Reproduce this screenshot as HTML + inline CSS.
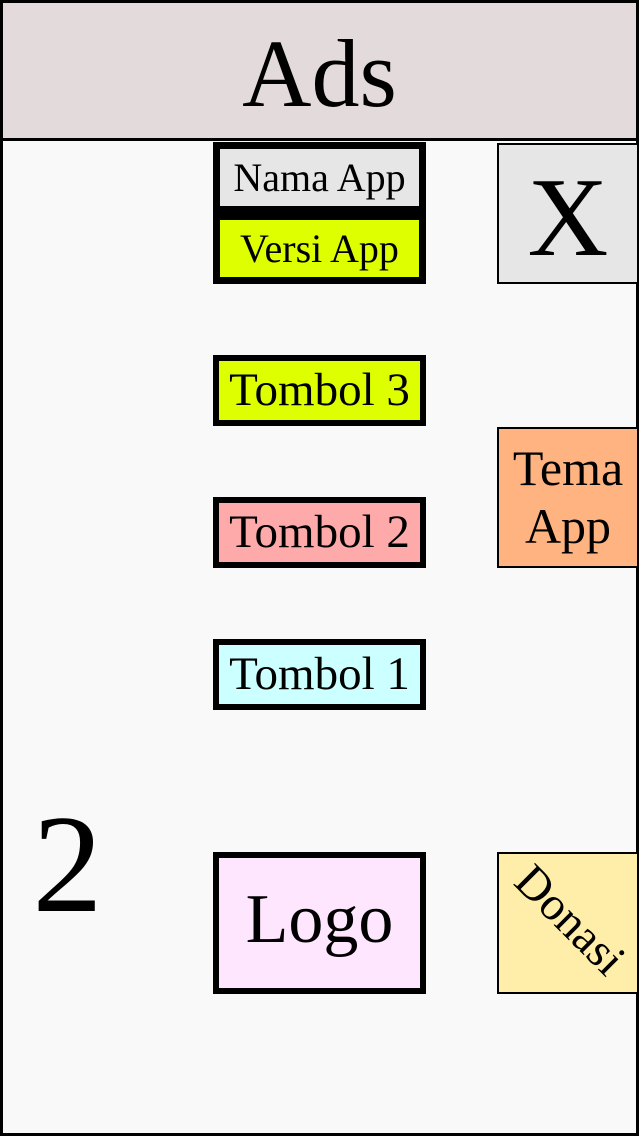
<!DOCTYPE html>
<html><head><meta charset="utf-8"><style>
*{margin:0;padding:0;box-sizing:border-box}
body{width:639px;height:1136px;overflow:hidden;background:#fff;font-family:"Liberation Serif",serif;}
.page{position:absolute;left:0;top:0;width:639px;height:1136px;background:#f9f9f9;border:3px solid #000;}
.abs{position:absolute;display:flex;align-items:center;justify-content:center;color:#000;line-height:1;text-align:center;white-space:nowrap}
.btn{border:6px solid #000;font-size:47px}
.side{border:2px solid #000}
</style></head><body>
<div class="page"></div>
<div class="abs" style="left:0;top:0;width:639px;height:141px;background:#e3dbdb;border:3px solid #000;font-size:96px;padding-top:6px">Ads</div>
<div class="abs" style="left:213px;top:142px;width:213px;height:142px;background:#000"></div>
<div class="abs" style="left:220px;top:149px;width:199px;height:57px;background:#e6e6e6;font-size:40px">Nama App</div>
<div class="abs" style="left:220px;top:220px;width:199px;height:57px;background:#ddff00;font-size:40px">Versi App</div>
<div class="abs side" style="left:497px;top:143px;width:142px;height:141px;background:#e6e6e6;font-size:112px;padding-top:8px">X</div>
<div class="abs btn" style="left:213px;top:355px;width:213px;height:71px;background:#ddff00">Tombol 3</div>
<div class="abs side" style="left:497px;top:427px;width:142px;height:141px;background:#ffb380;font-size:50px;line-height:1.15">Tema<br>App</div>
<div class="abs btn" style="left:213px;top:497px;width:213px;height:71px;background:#ffaaaa">Tombol 2</div>
<div class="abs btn" style="left:213px;top:639px;width:213px;height:71px;background:#ccffff">Tombol 1</div>
<div class="abs" style="left:15px;top:795px;width:105px;height:140px;font-size:140px">2</div>
<div class="abs btn" style="left:213px;top:852px;width:213px;height:142px;background:#ffe6ff;font-size:70px;padding-bottom:6px">Logo</div>
<div class="abs side" style="left:497px;top:852px;width:142px;height:142px;background:#ffeeaa;overflow:hidden"><span style="display:block;transform:rotate(45deg);font-size:47px;margin-top:-6px;margin-left:4px">Donasi</span></div>
</body></html>
